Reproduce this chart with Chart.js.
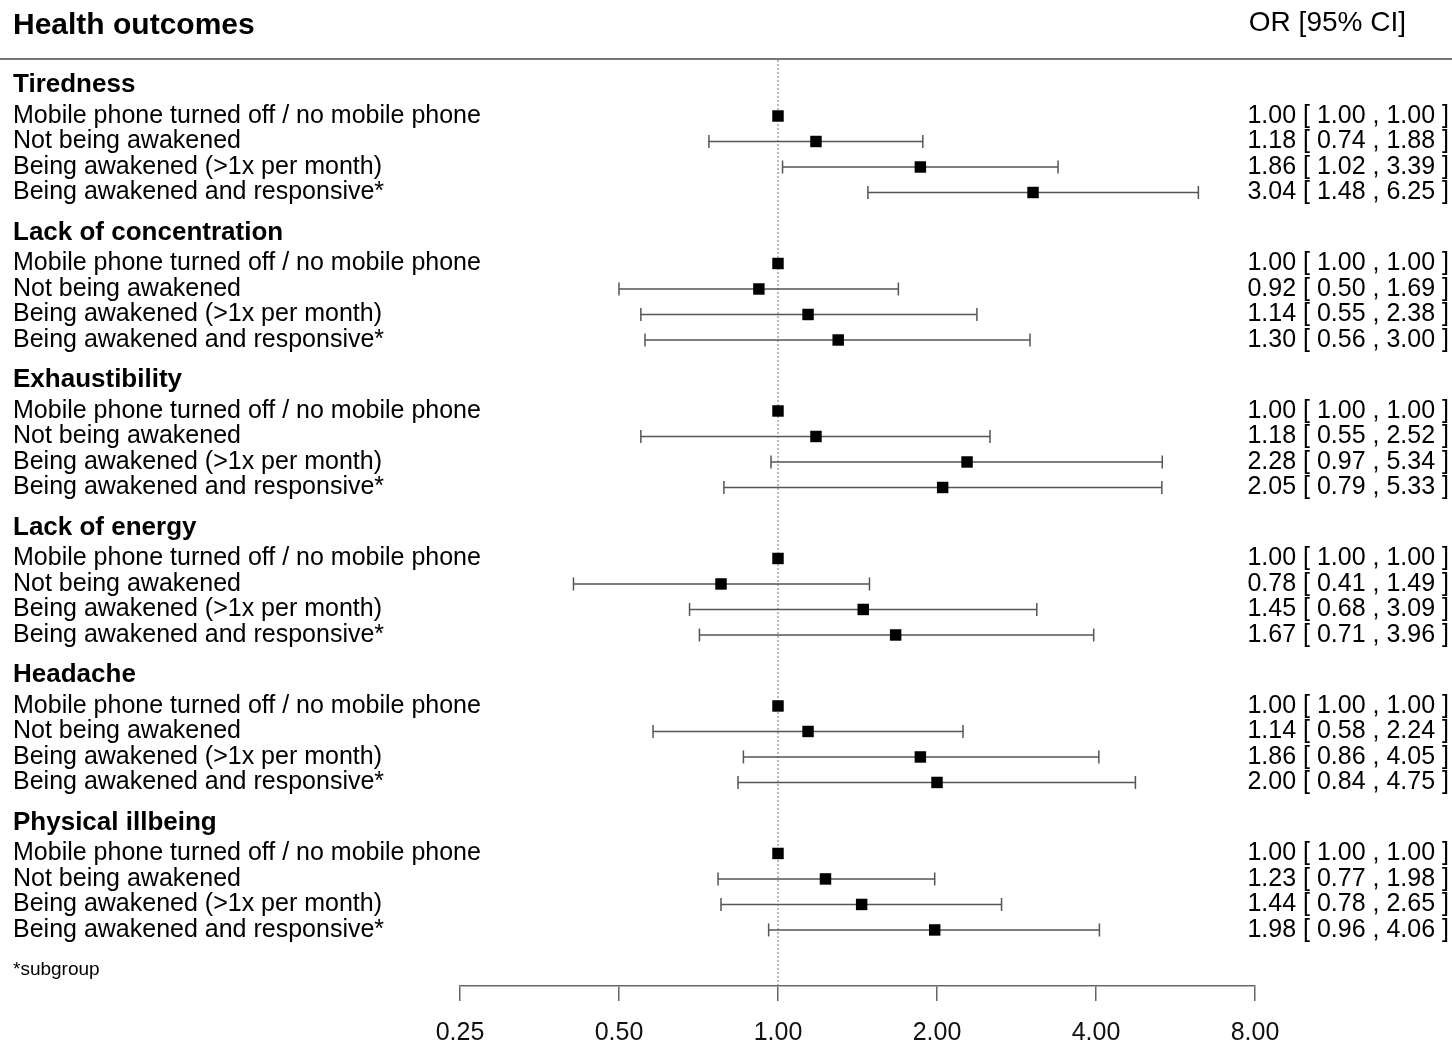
<!DOCTYPE html>
<html lang="en">
<head>
<meta charset="UTF-8">
<title>Health outcomes - forest plot</title>
<script src="https://cdn.jsdelivr.net/npm/chart.js"></script>
<style>
  body { margin: 0; background: #fff; }
  #forest { display: block; }
</style>
</head>
<body>
<canvas id="forest" width="1452" height="1042"></canvas>
<script>
const outcomes = ['Tiredness', 'Lack of concentration', 'Exhaustibility', 'Lack of energy', 'Headache', 'Physical illbeing'];
const exposures = [
  'Mobile phone turned off / no mobile phone',
  'Not being awakened',
  'Being awakened (>1x per month)',
  'Being awakened and responsive*'
];
// one row per outcome, one column per exposure
const oddsRatios = [
  [1.00, 1.18, 1.86, 3.04],
  [1.00, 0.92, 1.14, 1.30],
  [1.00, 1.18, 2.28, 2.05],
  [1.00, 0.78, 1.45, 1.67],
  [1.00, 1.14, 1.86, 2.00],
  [1.00, 1.23, 1.44, 1.98]
];
const ciLower = [
  [1.00, 0.74, 1.02, 1.48],
  [1.00, 0.50, 0.55, 0.56],
  [1.00, 0.55, 0.97, 0.79],
  [1.00, 0.41, 0.68, 0.71],
  [1.00, 0.58, 0.86, 0.84],
  [1.00, 0.77, 0.78, 0.96]
];
const ciUpper = [
  [1.00, 1.88, 3.39, 6.25],
  [1.00, 1.69, 2.38, 3.00],
  [1.00, 2.52, 5.34, 5.33],
  [1.00, 1.49, 3.09, 3.96],
  [1.00, 2.24, 4.05, 4.75],
  [1.00, 1.98, 2.65, 4.06]
];
const xTicks = [0.25, 0.5, 1, 2, 4, 8];

// vertical layout in "line" units
const GROUP_STEP = 5.784;
const FIRST_ROW = 1.216;
const Y_MIN = -0.98;
const Y_MAX = 35.334;
const FONT = '"Liberation Sans", Arial, sans-serif';

const headerY = g => g * GROUP_STEP;
const rowY = (g, r) => g * GROUP_STEP + FIRST_ROW + r;

const squares = [];
const whiskers = [];
oddsRatios.forEach((rows, g) => {
  rows.forEach((or, r) => {
    squares.push({ x: or, y: rowY(g, r) });
    if (ciUpper[g][r] > ciLower[g][r]) {
      whiskers.push({ x: ciLower[g][r], y: rowY(g, r) });
      whiskers.push({ x: ciUpper[g][r], y: rowY(g, r) });
      whiskers.push({ x: null, y: null });
    }
  });
});

const textPlugin = {
  id: 'forestText',
  afterDraw(chart) {
    const ctx = chart.ctx;
    const y = chart.scales.y;
    ctx.save();
    ctx.fillStyle = '#000';
    ctx.textBaseline = 'middle';

    // header
    ctx.font = 'bold 30px ' + FONT;
    ctx.textAlign = 'left';
    ctx.fillText('Health outcomes', 13, 26);
    ctx.font = '28px ' + FONT;
    ctx.textAlign = 'right';
    ctx.fillText('OR [95% CI]', 1406, 23);

    ctx.strokeStyle = '#777';
    ctx.lineWidth = 2;
    ctx.beginPath();
    ctx.moveTo(0, 59);
    ctx.lineTo(1452, 59);
    ctx.stroke();

    outcomes.forEach((name, g) => {
      ctx.textAlign = 'left';
      ctx.font = 'bold 26px ' + FONT;
      ctx.fillText(name, 13, y.getPixelForValue(headerY(g)));
      ctx.font = '25px ' + FONT;
      exposures.forEach((label, r) => {
        const py = y.getPixelForValue(rowY(g, r));
        ctx.textAlign = 'left';
        ctx.fillText(label, 13, py);
        ctx.textAlign = 'right';
        ctx.fillText(oddsRatios[g][r].toFixed(2) + ' [ ' + ciLower[g][r].toFixed(2) + ' , ' +
          ciUpper[g][r].toFixed(2) + ' ]', 1449, py);
      });
    });

    ctx.textAlign = 'left';
    ctx.font = '19px ' + FONT;
    ctx.fillText('*subgroup', 13, 970);
    ctx.restore();
  }
};

new Chart(document.getElementById('forest'), {
  type: 'scatter',
  data: {
    datasets: [
      {
        label: 'OR',
        data: squares,
        pointStyle: 'rect',
        pointRadius: 8.1,
        backgroundColor: '#000',
        borderColor: '#000',
        borderWidth: 0
      },
      {
        type: 'line',
        label: '95% CI',
        data: whiskers,
        borderColor: '#555',
        borderWidth: 1.5,
        pointStyle: 'line',
        rotation: 90,
        pointRadius: 6.5,
        pointBorderColor: '#555',
        pointBorderWidth: 1.5,
        spanGaps: false,
        fill: false
      },
      {
        type: 'line',
        label: 'reference',
        data: [{ x: 1, y: Y_MIN }, { x: 1, y: Y_MAX }],
        borderColor: '#777',
        borderWidth: 1,
        borderDash: [2, 2],
        pointRadius: 0,
        fill: false
      }
    ]
  },
  options: {
    responsive: false,
    animation: false,
    devicePixelRatio: 1,
    layout: { padding: { left: 460, right: 197, top: 60, bottom: 0 } },
    plugins: { legend: { display: false }, tooltip: { enabled: false } },
    scales: {
      x: {
        type: 'logarithmic',
        min: 0.25,
        max: 8,
        afterBuildTicks: s => { s.ticks = xTicks.map(v => ({ value: v })); },
        afterFit: s => { s.height = 56; },
        grid: { drawOnChartArea: false, drawTicks: true, tickLength: 15, color: '#666', lineWidth: 1.5 },
        border: { display: true, color: '#666', width: 1.5 },
        ticks: {
          callback: v => Number(v).toFixed(2),
          font: { size: 25, family: FONT },
          color: '#111',
          padding: 17,
          maxRotation: 0,
          autoSkip: false
        }
      },
      y: { type: 'linear', display: false, reverse: true, min: Y_MIN, max: Y_MAX }
    }
  },
  plugins: [textPlugin]
});
</script>
</body>
</html>
